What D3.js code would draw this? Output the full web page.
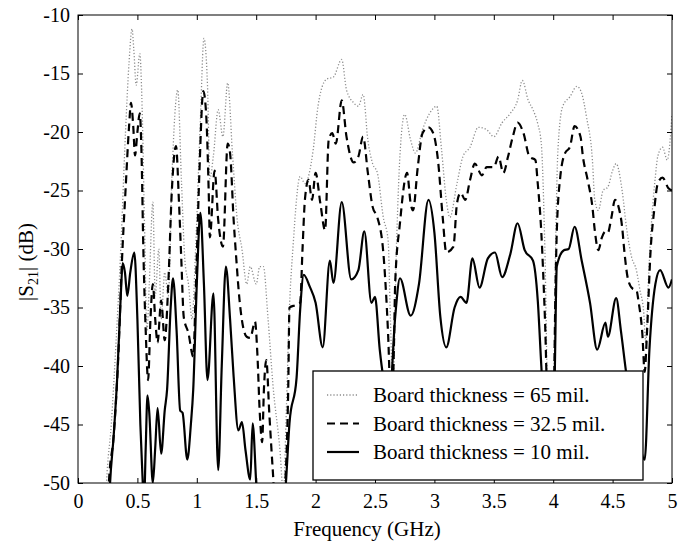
<!DOCTYPE html>
<html>
<head>
<meta charset="utf-8">
<script src="https://cdn.jsdelivr.net/npm/d3@7"></script>
<style>
  body { margin: 0; background: #fff; }
  text { font-family: "Liberation Serif", "DejaVu Serif", serif; }
</style>
</head>
<body>
<script>
// frequency (GHz) / |S21| (dB), one pair of arrays per board
const freq65 = [0,0.22,0.24,0.28,0.32,0.36,0.40,0.43,0.455,0.47,0.49,0.52,0.54,0.56,0.58,0.60,0.63,0.65,0.68,0.70,0.73,0.76,0.79,0.84,0.87,0.90,0.93,0.96,0.99,1.03,1.06,1.09,1.11,1.14,1.18,1.22,1.26,1.30,1.34,1.38,1.42,1.45,1.50,1.53,1.56,1.60,1.64,1.70,1.73,1.75,1.78,1.81,1.87,1.91,1.98,2.02,2.09,2.15,2.22,2.26,2.32,2.36,2.40,2.44,2.48,2.52,2.57,2.61,2.63,2.65,2.68,2.71,2.75,2.80,2.84,2.90,2.96,3.02,3.06,3.10,3.13,3.19,3.24,3.30,3.37,3.44,3.50,3.57,3.64,3.70,3.74,3.79,3.83,3.87,3.90,3.93,3.96,4.0,4.02,4.04,4.08,4.14,4.20,4.24,4.28,4.33,4.35,4.38,4.42,4.46,4.50,4.53,4.58,4.62,4.66,4.70,4.73,4.76,4.78,4.80,4.82,4.86,4.88,4.92,4.96,5.0];
const s21_65 = [-56,-55,-50,-45,-38,-30,-20,-14,-11.2,-13,-16,-13.3,-18,-28,-37,-33,-26,-34,-30,-36,-32,-34,-24,-16.4,-24,-31,-33,-36,-30,-19,-12,-16,-24,-22,-18.1,-20.4,-15.8,-21.8,-27.5,-30,-33,-31.5,-33,-31.5,-31.5,-36,-41.5,-47.2,-51,-45,-35,-29.8,-23.8,-24.4,-21.5,-17.8,-15.5,-15.3,-13.8,-16.4,-17.5,-17.8,-16.8,-20.7,-22.7,-23.5,-27.3,-29.2,-36,-42,-30,-22,-18.5,-20.7,-21.8,-19.8,-18.4,-17.8,-21.5,-25.8,-27.3,-24.4,-22.1,-21.3,-19.6,-19.8,-20.4,-19.2,-18.4,-17.3,-15.6,-17.3,-18.1,-19.3,-21,-30,-45,-45,-30,-21.5,-17.8,-17,-16.1,-16.7,-18.7,-22.4,-25.8,-26.7,-25,-24.7,-23.3,-22.7,-25,-28.4,-30.7,-31.8,-33.5,-35.2,-38,-33,-29,-23.8,-22.1,-21.3,-22.4,-18.5];

const freq32 = [0,0.24,0.26,0.30,0.34,0.37,0.40,0.43,0.446,0.465,0.48,0.50,0.52,0.535,0.55,0.57,0.59,0.61,0.63,0.65,0.67,0.70,0.73,0.76,0.79,0.825,0.85,0.87,0.89,0.93,0.97,0.99,1.02,1.055,1.08,1.10,1.11,1.15,1.18,1.22,1.26,1.28,1.31,1.33,1.36,1.42,1.45,1.49,1.51,1.53,1.55,1.565,1.585,1.61,1.64,1.66,1.72,1.745,1.77,1.78,1.83,1.87,1.89,1.91,1.94,1.97,2.0,2.04,2.08,2.11,2.14,2.17,2.22,2.26,2.32,2.36,2.40,2.44,2.48,2.52,2.57,2.61,2.64,2.66,2.67,2.71,2.77,2.80,2.82,2.86,2.90,2.95,2.99,3.03,3.07,3.10,3.16,3.19,3.22,3.26,3.30,3.34,3.40,3.44,3.50,3.54,3.58,3.62,3.66,3.70,3.75,3.80,3.85,3.87,3.90,3.93,3.96,4.0,4.02,4.03,4.06,4.10,4.14,4.18,4.23,4.25,4.29,4.33,4.35,4.38,4.41,4.44,4.46,4.49,4.52,4.55,4.58,4.60,4.63,4.67,4.70,4.72,4.75,4.77,4.79,4.82,4.85,4.88,4.92,4.97,5.0];
const s21_32 = [-56,-55,-50,-46,-39,-31,-25,-19.5,-17.5,-19.5,-22,-20,-18.4,-22,-30,-37,-41.2,-36,-33,-36,-38,-34.4,-37.8,-33,-25,-21.2,-26,-31,-35.8,-37.2,-39.2,-34,-24,-16.5,-18.7,-25,-29,-23.3,-27.5,-29.8,-21,-21.8,-27.5,-30.5,-34.4,-37.5,-37.6,-36.2,-39,-44,-46.5,-42,-39.5,-44,-49,-52,-53,-50,-41.7,-35,-34.8,-34.6,-30,-25.8,-24.1,-25.8,-23.5,-26.1,-28.4,-20.7,-20.1,-21,-17.3,-20.4,-22.6,-22.1,-20.4,-23.5,-26.4,-27.3,-30.3,-37.2,-45,-38,-32.9,-27.8,-23.5,-26.1,-26.7,-23,-20.1,-19.6,-20.1,-22.4,-27.3,-30.3,-29.8,-26.1,-25.2,-25.8,-24.1,-22.7,-23.7,-23,-23,-22.1,-23.5,-22.1,-20.4,-19.2,-20.1,-22.1,-22.4,-24.4,-28.6,-35.8,-45,-45,-32.9,-28.6,-23.8,-21.8,-21.3,-19.5,-20.4,-22.1,-24.1,-26.4,-28.4,-30.1,-29,-28.5,-28.6,-27.3,-25.8,-26.4,-28.1,-30.3,-32.6,-33.4,-33.5,-34.6,-37.2,-40.5,-37,-30.1,-26.7,-24.4,-23.9,-24.8,-25];

const freq10 = [0,0.25,0.27,0.30,0.33,0.36,0.376,0.395,0.415,0.44,0.474,0.50,0.525,0.545,0.555,0.57,0.585,0.60,0.63,0.65,0.67,0.70,0.73,0.75,0.78,0.80,0.83,0.86,0.88,0.92,0.95,0.97,1.0,1.03,1.06,1.09,1.14,1.18,1.21,1.245,1.28,1.31,1.35,1.38,1.41,1.45,1.47,1.50,1.53,1.70,1.75,1.78,1.84,1.87,1.90,1.95,2.0,2.06,2.12,2.15,2.22,2.30,2.36,2.41,2.47,2.50,2.54,2.57,2.62,2.67,2.71,2.80,2.87,2.95,3.0,3.05,3.10,3.17,3.22,3.27,3.32,3.38,3.45,3.51,3.57,3.64,3.70,3.76,3.83,3.87,3.90,3.93,3.97,4.01,4.03,4.09,4.13,4.18,4.24,4.31,4.37,4.44,4.46,4.53,4.57,4.62,4.70,4.77,4.81,4.86,4.90,4.97,5.0];
const s21_10 = [-56,-55,-50,-46,-41,-34,-31.2,-32,-34,-32,-30.3,-36,-45,-50,-52,-47,-42.5,-44,-50,-47,-43.6,-47.5,-43.8,-42,-35,-32.5,-37,-43.8,-44,-48,-45,-42,-33,-26.9,-33,-41.2,-33.8,-48.9,-40,-31.5,-36,-40.9,-45.5,-44.8,-47.2,-49.7,-44.9,-50,-55,-55,-50,-44.9,-41,-35.2,-32.2,-33.2,-34.6,-38.4,-31,-32.9,-26,-32.6,-31.8,-28.5,-34.6,-34.1,-38.6,-41,-43,-35.8,-32.5,-35.7,-33,-25.8,-28.6,-35.8,-38.4,-35,-34.1,-34.6,-30.8,-33.3,-30.8,-30.3,-32.4,-30.4,-27.8,-30.1,-31,-34.4,-40,-45,-47,-42,-31.5,-30.1,-30,-28.1,-31,-34.6,-38.6,-36.3,-37.5,-34.2,-37,-41,-45,-48,-38.6,-33,-31.8,-33.3,-32.6];

const xTicks = [0,0.5,1,1.5,2,2.5,3,3.5,4,4.5,5];
const yTicks = [-50,-45,-40,-35,-30,-25,-20,-15,-10];
const legendLabels = ["Board thickness = 65 mil.", "Board thickness = 32.5 mil.", "Board thickness = 10 mil."];

const width = 687, height = 542;
const margin = {top: 15, right: 15, bottom: 59, left: 78};

const svg = d3.select("body").append("svg")
    .attr("width", width)
    .attr("height", height);

const x = d3.scaleLinear().domain([0, 5]).range([margin.left, width - margin.right]);
const y = d3.scaleLinear().domain([-50, -10]).range([height - margin.bottom, margin.top]);

svg.append("clipPath").attr("id", "plot-clip")
  .append("rect")
    .attr("x", x(0)).attr("y", y(-10))
    .attr("width", x(5) - x(0)).attr("height", y(-50) - y(-10));

// series styles: dotted grey, dashed, solid
const series = [
  {f: freq65, v: s21_65, stroke: "#8c8c8c", w: 1.3, dash: "1.2,2"},
  {f: freq32, v: s21_32, stroke: "#000", w: 2.2, dash: "8,5"},
  {f: freq10, v: s21_10, stroke: "#000", w: 2.2, dash: null}
];

const line = d3.line()
    .x(d => x(d[0]))
    .y(d => y(d[1]))
    .curve(d3.curveMonotoneX);

const lines = svg.append("g").attr("clip-path", "url(#plot-clip)");
series.forEach(s => {
  lines.append("path")
    .datum(s.f.map((f, i) => [f, s.v[i]]))
    .attr("fill", "none")
    .attr("stroke", s.stroke)
    .attr("stroke-width", s.w)
    .attr("stroke-dasharray", s.dash)
    .attr("d", line);
});

// axes with inward ticks on all four sides
const fmt = d => String(d);
const axStyle = g => {
  g.select(".domain").remove();
  g.selectAll("line").attr("stroke", "#000");
  g.selectAll("text").attr("font-size", 20).attr("fill", "#000")
    .attr("font-family", "'Liberation Serif', serif");
};

svg.append("g").attr("transform", `translate(0,${y(-50)})`)
  .call(d3.axisBottom(x).tickValues(xTicks).tickFormat(fmt).tickSize(-5).tickSizeOuter(0).tickPadding(11))
  .call(axStyle);
svg.append("g").attr("transform", `translate(0,${y(-10)})`)
  .call(d3.axisTop(x).tickValues(xTicks).tickFormat("").tickSize(-5).tickSizeOuter(0))
  .call(axStyle);
svg.append("g").attr("transform", `translate(${x(0)},0)`)
  .call(d3.axisLeft(y).tickValues(yTicks).tickFormat(fmt).tickSize(-5).tickSizeOuter(0).tickPadding(8))
  .call(axStyle);
svg.append("g").attr("transform", `translate(${x(5)},0)`)
  .call(d3.axisRight(y).tickValues(yTicks).tickFormat("").tickSize(-5).tickSizeOuter(0))
  .call(axStyle);

svg.append("rect")
    .attr("x", x(0)).attr("y", y(-10))
    .attr("width", x(5) - x(0)).attr("height", y(-50) - y(-10))
    .attr("fill", "none").attr("stroke", "#000").attr("stroke-width", 1);

// axis titles
svg.append("text")
    .attr("x", 367).attr("y", 536)
    .attr("text-anchor", "middle")
    .attr("font-size", 21)
    .text("Frequency (GHz)");

const yl = svg.append("text")
    .attr("transform", "translate(33,262) rotate(-90)")
    .attr("text-anchor", "middle")
    .attr("font-size", 21);
yl.append("tspan").text("|S");
yl.append("tspan").attr("font-size", 14).attr("dy", 5).text("21");
yl.append("tspan").attr("dy", -5).text("| (dB)");

// legend
const legend = svg.append("g");
legend.append("rect")
    .attr("x", 313).attr("y", 371)
    .attr("width", 330).attr("height", 109)
    .attr("fill", "#fff").attr("stroke", "#000").attr("stroke-width", 1.3);

series.forEach((s, i) => {
  const cy = 395 + i * 28.5;
  legend.append("line")
    .attr("x1", 327).attr("x2", 359).attr("y1", cy).attr("y2", cy)
    .attr("stroke", s.stroke).attr("stroke-width", s.w)
    .attr("stroke-dasharray", s.dash);
  legend.append("text")
    .attr("x", 373).attr("y", cy + 7)
    .attr("font-size", 21)
    .text(legendLabels[i]);
});
</script>
</body>
</html>
